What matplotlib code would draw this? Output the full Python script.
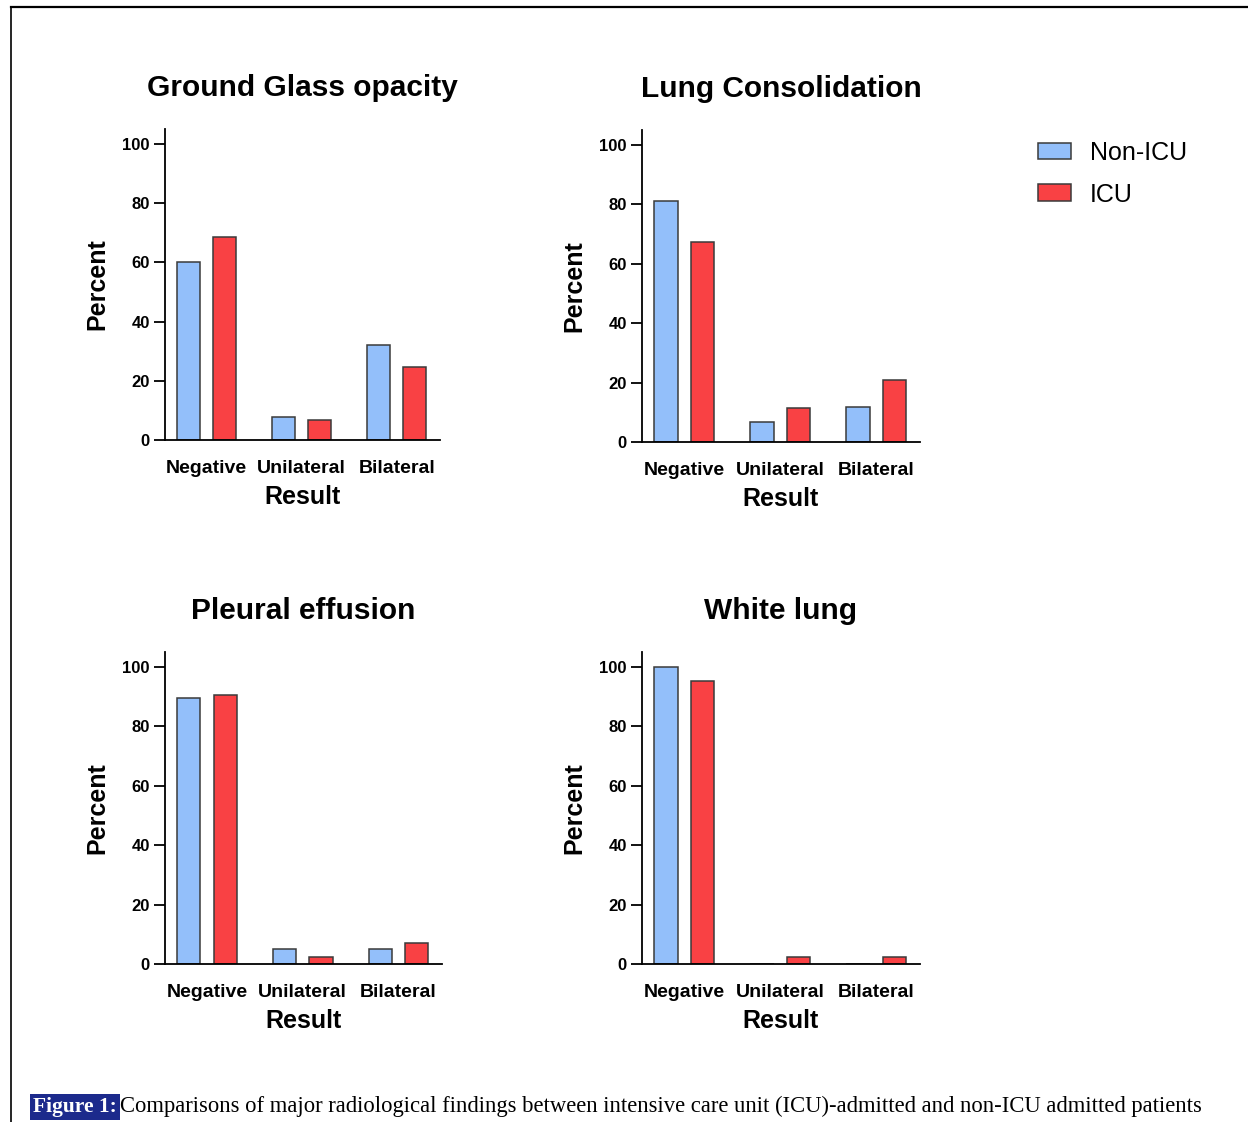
import matplotlib
matplotlib.use("Agg")
import matplotlib.pyplot as plt
from matplotlib.patches import Patch
import numpy as np

plt.rcParams['font.family'] = ['Liberation Sans', 'DejaVu Sans']

# data (percent)
categories = ["Negative", "Unilateral", "Bilateral"]
titles = ["Ground Glass opacity", "Lung Consolidation", "Pleural effusion", "White lung"]
non_icu_ggo = [60.0, 7.8, 32.2]
icu_ggo = [68.5, 6.8, 24.7]
non_icu_cons = [81.1, 6.7, 11.8]
icu_cons = [67.3, 11.4, 20.9]
non_icu_pe = [89.6, 5.0, 5.0]
icu_pe = [90.6, 2.4, 7.1]
non_icu_wl = [100.0, 0.0, 0.0]
icu_wl = [95.3, 2.4, 2.4]
yticks = [0, 20, 40, 60, 80, 100]

non_icu_all = [non_icu_ggo, non_icu_cons, non_icu_pe, non_icu_wl]
icu_all = [icu_ggo, icu_cons, icu_pe, icu_wl]

blue = "#93BFFA"
red = "#F94144"
edge = "#3a3a3a"

W, H = 1248, 1122
fig = plt.figure(figsize=(W / 100, H / 100), dpi=100)

# panel boxes in pixels: left, right, bottom, top
boxes = [(165, 440, 440, 129), (642, 920, 442, 130),
         (165, 442, 964, 652), (642, 920, 964, 652)]

x = np.arange(len(categories))
bw = 0.242
off = 0.19

for i in range(4):
    l, r, b, t = boxes[i]
    ax = fig.add_axes([l / W, (H - b) / H, (r - l) / W, (b - t) / H])
    ax.bar(x - off, non_icu_all[i], bw, color=blue, edgecolor=edge, linewidth=1.1)
    ax.bar(x + off, icu_all[i], bw, color=red, edgecolor=edge, linewidth=1.1)
    ax.set_xlim(-0.44, 2.455)
    ax.set_ylim(0, 105)
    ax.set_yticks(yticks)
    ax.set_xticks(x)
    ax.set_xticklabels(categories, fontsize=14, fontweight='bold')
    for lab in ax.get_yticklabels():
        lab.set_fontweight('bold')
    ax.tick_params(axis='y', length=8, width=1.3, labelsize=12, pad=3)
    ax.tick_params(axis='x', length=0, pad=14.5)
    ax.spines['top'].set_visible(False)
    ax.spines['right'].set_visible(False)
    ax.spines['left'].set_linewidth(1.3)
    ax.spines['bottom'].set_linewidth(1.3)
    ax.set_ylabel("Percent", fontsize=18, fontweight='bold', labelpad=9)
    ax.set_xlabel("Result", fontsize=18, fontweight='bold', labelpad=6)
    ax.set_title(titles[i], fontsize=21.5, fontweight='bold', pad=24)

handles = [Patch(facecolor=blue, edgecolor=edge, linewidth=1.1, label="Non-ICU"),
           Patch(facecolor=red, edgecolor=edge, linewidth=1.1, label="ICU")]
fig.legend(handles=handles, loc='upper left', bbox_to_anchor=(1038 / W, 1 - 141 / H),
           frameon=False, fontsize=18, handlelength=1.32, handleheight=0.64,
           handletextpad=0.75, labelspacing=0.7, borderpad=0, borderaxespad=0)

# page frame and caption
bg = fig.add_axes([0, 0, 1, 1], zorder=-1)
bg.set_xlim(0, W)
bg.set_ylim(H, 0)
bg.axis('off')
bg.plot([10.5, W], [6.5, 6.5], color='black', linewidth=1.6)
bg.plot([10.5, 10.5], [6.5, H], color='black', linewidth=1.2)

cap1 = bg.text(33, 1112, "Figure 1:", fontsize=15.5, fontweight='bold', color='white',
               family=['Liberation Serif', 'DejaVu Serif'], va='baseline',
               bbox=dict(facecolor='#1c2a8c', edgecolor='none', pad=2))
bg.annotate("Comparisons of major radiological findings between intensive care unit (ICU)-admitted and non-ICU admitted patients",
            xy=(1, 0), xycoords=cap1, xytext=(2, 0), textcoords='offset points',
            fontsize=16.3, family=['Liberation Serif', 'DejaVu Serif'], va='bottom', ha='left')

fig.savefig("out.png", dpi=100)
